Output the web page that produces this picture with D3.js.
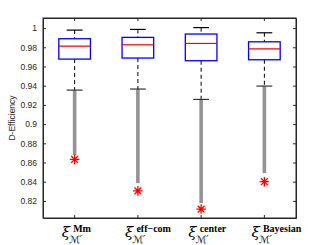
<!DOCTYPE html>
<html lang="en">
<head>
<meta charset="utf-8">
<title>D-Efficiency boxplot</title>
<script src="https://d3js.org/d3.v7.min.js"></script>
<style>
  body { margin: 0; background: #fff; }
  svg { display: block; }
</style>
</head>
<body>
<script>
// data
var designs = ["Mm", "eff\u2212com", "center", "Bayesian"];
var whiskerHigh = [0.9979, 0.9986, 1.0005, 0.9951];
var q3 = [0.9889, 0.9903, 0.9938, 0.9857];
var medians = [0.9812, 0.9826, 0.9840, 0.9784];
var q1 = [0.9677, 0.9688, 0.9660, 0.9670];
var whiskerLow = [0.9354, 0.9365, 0.9257, 0.9396];
var outlierLow = [0.8677, 0.8385, 0.8177, 0.8490];
var minimum = [0.8632, 0.8305, 0.8115, 0.8400];
var yTicks = [0.82, 0.84, 0.86, 0.88, 0.9, 0.92, 0.94, 0.96, 0.98, 1];

var w = 327, h = 245;
var mLeft = 43, mRight = 296, mTop = 18, mBottom = 218;

var svg = d3.select("body").append("svg")
    .attr("width", w)
    .attr("height", h);

var x = d3.scaleBand().domain(designs).range([mLeft, mRight]);
var y = d3.scaleLinear().domain([0.8022, 1.0105]).range([mBottom, mTop]);

var rows = designs.map(function(d, i) {
  return { name: d, hi: whiskerHigh[i], q3: q3[i], med: medians[i], q1: q1[i],
           lo: whiskerLow[i], olo: outlierLow[i], min: minimum[i] };
});

var boxW = x.bandwidth() / 2;
var capW = boxW / 2;
var cx = function(d) { return x(d.name) + x.bandwidth() / 2; };

// axes (box on, ticks inward)
var axisColor = "#262626";
svg.append("g")
    .attr("transform", "translate(" + mLeft + ",0)")
    .call(d3.axisLeft(y).tickValues(yTicks).tickSizeInner(-3).tickSizeOuter(0).tickPadding(6)
      .tickFormat(function(v) { return v === 1 ? "1" : (v === 0.9 ? "0.9" : d3.format(".2f")(v)); }));
svg.append("g")
    .attr("transform", "translate(" + mRight + ",0)")
    .call(d3.axisRight(y).tickValues(yTicks).tickSizeInner(-3).tickSizeOuter(0).tickFormat(""));
svg.append("g")
    .attr("transform", "translate(0," + mBottom + ")")
    .call(d3.axisBottom(x).tickSizeInner(-3).tickSizeOuter(0).tickFormat(""));
svg.append("g")
    .attr("transform", "translate(0," + mTop + ")")
    .call(d3.axisTop(x).tickSizeInner(-3).tickSizeOuter(0).tickFormat(""));
svg.selectAll(".domain, .tick line").attr("stroke", axisColor).attr("stroke-width", 1);
svg.selectAll(".tick text")
    .attr("fill", axisColor)
    .style("font-family", "'Liberation Sans', Arial, sans-serif")
    .style("font-size", "8.5px");
svg.append("rect")
    .attr("x", mLeft).attr("y", mTop)
    .attr("width", mRight - mLeft).attr("height", mBottom - mTop)
    .attr("fill", "none").attr("stroke", axisColor).attr("stroke-width", 1);

// y label
svg.append("text")
    .attr("transform", "translate(15," + ((mTop + mBottom) / 2) + ") rotate(-90)")
    .attr("text-anchor", "middle")
    .attr("fill", axisColor)
    .style("font-family", "'Liberation Sans', Arial, sans-serif")
    .style("font-size", "8.5px")
    .text("D-Efficiency");

var g = svg.selectAll(".box").data(rows).enter().append("g").attr("class", "box");

// dashed whiskers
g.append("line")
    .attr("x1", cx).attr("x2", cx)
    .attr("y1", function(d) { return y(d.hi); })
    .attr("y2", function(d) { return y(d.q3); })
    .attr("stroke", "#000").attr("stroke-dasharray", "4,3");
g.append("line")
    .attr("x1", cx).attr("x2", cx)
    .attr("y1", function(d) { return y(d.q1); })
    .attr("y2", function(d) { return y(d.lo); })
    .attr("stroke", "#000").attr("stroke-dasharray", "4,3");

// caps
g.append("line")
    .attr("x1", function(d) { return cx(d) - capW / 2; })
    .attr("x2", function(d) { return cx(d) + capW / 2; })
    .attr("y1", function(d) { return y(d.hi); })
    .attr("y2", function(d) { return y(d.hi); })
    .attr("stroke", "#000").attr("stroke-width", 1.2);

// outliers: dense gray run
g.append("line")
    .attr("x1", cx).attr("x2", cx)
    .attr("y1", function(d) { return y(d.lo); })
    .attr("y2", function(d) { return y(d.olo); })
    .attr("stroke", "#939393").attr("stroke-width", 3.6);

g.append("line")
    .attr("x1", function(d) { return cx(d) - capW / 2; })
    .attr("x2", function(d) { return cx(d) + capW / 2; })
    .attr("y1", function(d) { return y(d.lo); })
    .attr("y2", function(d) { return y(d.lo); })
    .attr("stroke", "#333").attr("stroke-width", 1.2);

// box
g.append("rect")
    .attr("x", function(d) { return cx(d) - boxW / 2; })
    .attr("width", boxW)
    .attr("y", function(d) { return y(d.q3); })
    .attr("height", function(d) { return y(d.q1) - y(d.q3); })
    .attr("fill", "none").attr("stroke", "#0000ff").attr("stroke-width", 1.3);

// median
g.append("line")
    .attr("x1", function(d) { return cx(d) - boxW / 2; })
    .attr("x2", function(d) { return cx(d) + boxW / 2; })
    .attr("y1", function(d) { return y(d.med); })
    .attr("y2", function(d) { return y(d.med); })
    .attr("stroke", "#ff0000").attr("stroke-width", 1.2);

// red asterisk at the minimum
var r = 4.8;
g.append("path")
    .attr("d", function(d) {
      var px = cx(d), py = y(d.min), s = "";
      [0, 45, 90, 135].forEach(function(a) {
        var t = a * Math.PI / 180, dx = r * Math.cos(t), dy = r * Math.sin(t);
        s += "M" + (px - dx) + "," + (py - dy) + "L" + (px + dx) + "," + (py + dy);
      });
      return s;
    })
    .attr("stroke", "#ff0000").attr("stroke-width", 1.3).attr("fill", "none");

// x tick labels: xi with sub/superscripts
var lab = svg.selectAll(".xlab").data(rows).enter().append("g")
    .attr("class", "xlab")
    .attr("transform", function(d) { return "translate(" + (cx(d) - 13) + ",0)"; });
lab.append("text")
    .attr("x", 0).attr("y", 237)
    .style("font-family", "'DejaVu Serif', serif")
    .style("font-style", "italic")
    .style("font-size", "15px")
    .text("\u03be");
lab.append("text")
    .attr("x", 11.5).attr("y", 232)
    .style("font-family", "'Liberation Serif', 'DejaVu Serif', serif")
    .style("font-weight", "bold")
    .style("font-size", "10px")
    .text(function(d) { return d.name; });
lab.append("text")
    .attr("x", 7.5).attr("y", 242.5)
    .style("font-family", "'DejaVu Sans', sans-serif")
    .style("font-style", "italic")
    .style("font-size", "10px")
    .text("\u2133\u2032");
</script>
</body>
</html>
